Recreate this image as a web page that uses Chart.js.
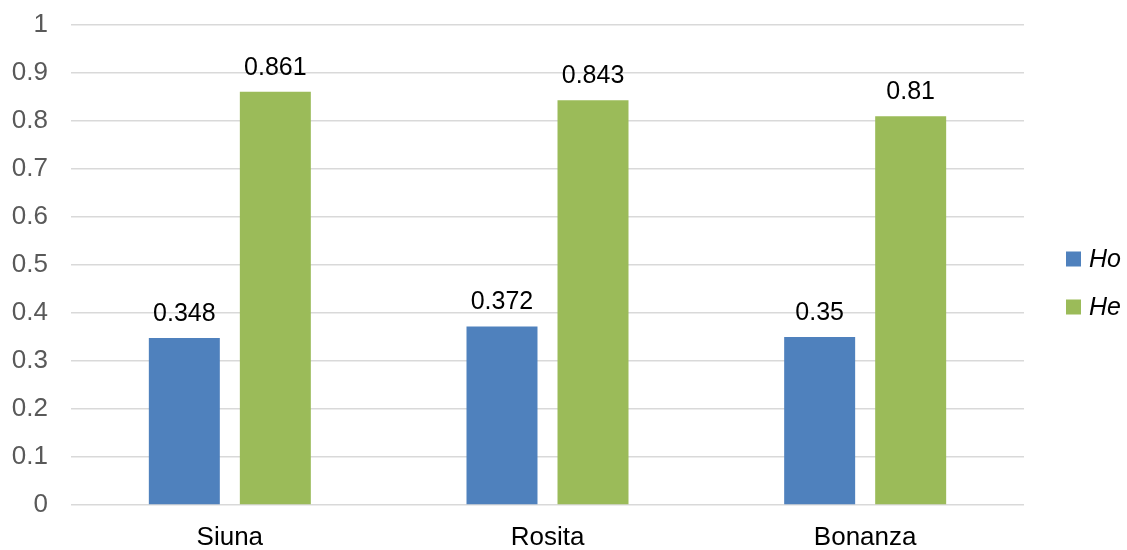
<!DOCTYPE html>
<html>
<head>
<meta charset="utf-8">
<script src="https://cdn.jsdelivr.net/npm/chart.js@4/dist/chart.umd.min.js"></script>
<style>
  html, body { margin: 0; padding: 0; background: #ffffff; }
  #wrap { width: 1127px; height: 550px; position: relative; }
</style>
</head>
<body>
<div id="wrap"><canvas id="chart"></canvas></div>
<script>
// Heterozygosity by locality
const categories = ['Siuna', 'Rosita', 'Bonanza'];
const seriesNames = ['Ho', 'He'];
const hoValues = [0.348, 0.372, 0.35];
const heValues = [0.861, 0.843, 0.81];
const yTicks = [0, 0.1, 0.2, 0.3, 0.4, 0.5, 0.6, 0.7, 0.8, 0.9, 1];

const FONT = '"Liberation Sans", Arial, sans-serif';

// Value labels above each bar
const valueLabels = {
  id: 'valueLabels',
  afterDatasetsDraw(chart) {
    const ctx = chart.ctx;
    ctx.save();
    ctx.font = '25px ' + FONT;
    ctx.fillStyle = '#000000';
    ctx.textAlign = 'center';
    ctx.textBaseline = 'alphabetic';
    chart.data.datasets.forEach((ds, i) => {
      chart.getDatasetMeta(i).data.forEach((bar, j) => {
        ctx.fillText(String(ds.data[j]), bar.x, bar.y - 17);
      });
    });
    ctx.restore();
  }
};

// Legend at the right, vertically stacked
const sideLegend = {
  id: 'sideLegend',
  afterDraw(chart) {
    const ctx = chart.ctx;
    ctx.save();
    ctx.font = 'italic 25px ' + FONT;
    ctx.textBaseline = 'middle';
    ctx.textAlign = 'left';
    const x = 1066;
    const ys = [259, 307];
    chart.data.datasets.forEach((ds, i) => {
      ctx.fillStyle = ds.backgroundColor;
      ctx.fillRect(x, ys[i] - 7.5, 15, 15);
      ctx.fillStyle = '#000000';
      ctx.fillText(ds.label, x + 23, ys[i] + 1);
    });
    ctx.restore();
  }
};

new Chart(document.getElementById('chart'), {
  type: 'bar',
  data: {
    labels: categories,
    datasets: [
      { label: seriesNames[0], data: hoValues, backgroundColor: '#4f81bd',
        categoryPercentage: 0.573, barPercentage: 0.78 },
      { label: seriesNames[1], data: heValues, backgroundColor: '#9bbb59',
        categoryPercentage: 0.573, barPercentage: 0.78 }
    ]
  },
  options: {
    responsive: true,
    maintainAspectRatio: false,
    animation: false,
    layout: { padding: { top: 25, right: 103, left: 0, bottom: 0 } },
    plugins: {
      legend: { display: false },
      tooltip: { enabled: false }
    },
    scales: {
      x: {
        grid: { display: false, drawTicks: false },
        border: { display: false },
        ticks: { color: '#000000', font: { family: FONT, size: 26 }, padding: 17 },
        afterFit(scale) { scale.height = 45; }
      },
      y: {
        min: 0,
        max: 1,
        afterBuildTicks(scale) { scale.ticks = yTicks.map(v => ({ value: v })); },
        grid: { color: '#d9d9d9', lineWidth: 1.5, drawTicks: false },
        border: { display: false },
        ticks: {
          color: '#595959',
          font: { family: FONT, size: 26 },
          padding: 23,
          callback: v => String(Math.round(v * 10) / 10)
        },
        afterFit(scale) {
          scale.width = 71;
          scale.paddingTop = 0;
          scale.paddingBottom = 0;
        }
      }
    }
  },
  plugins: [valueLabels, sideLegend]
});
</script>
</body>
</html>
